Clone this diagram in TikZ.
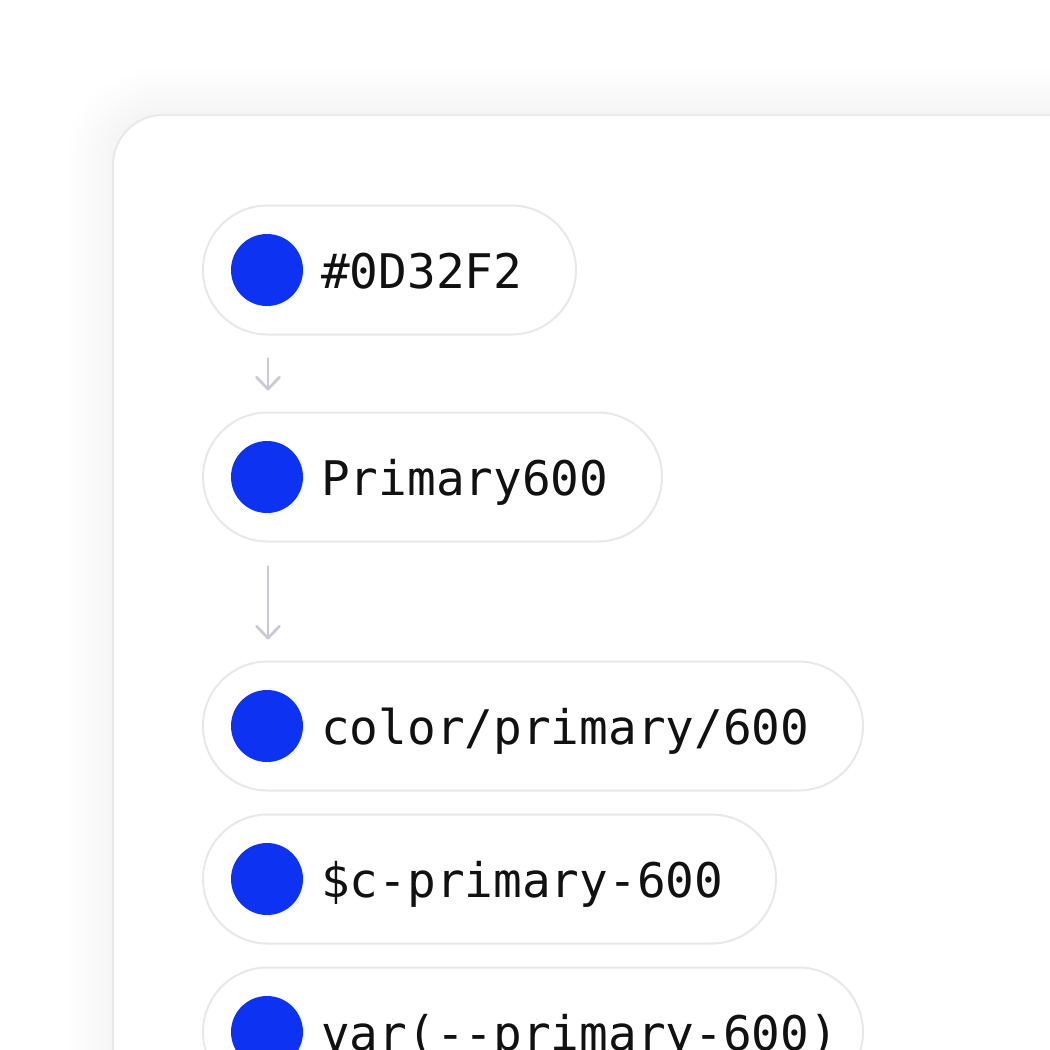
\documentclass[tikz,border=0pt]{standalone}
\usepackage{fontspec}
\setmonofont{DejaVu Sans Mono}
\usetikzlibrary{arrows.meta,calc}
\definecolor{pillline}{HTML}{E8E8EA}
\definecolor{cardline}{HTML}{E9E9EB}
\definecolor{dotblue}{HTML}{0D32F2}
\definecolor{arrowgray}{HTML}{C9C9D6}
\definecolor{shadowgray}{HTML}{DCDCE0}
\definecolor{txt}{HTML}{111111}
\tikzset{
  pill/.style={draw=pillline, line width=2pt, fill=white, rounded corners=64.5pt,
    minimum height=129pt, inner sep=0pt, anchor=west},
  dot/.style={circle, fill=dotblue, minimum size=72pt, inner sep=0pt},
  code/.style={anchor=base west, inner sep=0pt, text=txt,
    font=\ttfamily\fontsize{47.7}{50}\selectfont},
  flow/.style={draw=arrowgray, line width=2.7pt, line cap=round,
    -{Straight Barb[length=12pt,width=23pt,line width=2.7pt,round]}}
}
\begin{document}
\begin{tikzpicture}[x=1pt,y=-1pt]
\useasboundingbox (0,0) rectangle (1050,1050);
\fill[white] (0,0) rectangle (1050,1050);
% soft shadow (solid layers, outermost first)
\foreach \i in {26,25,...,1}{
  \pgfmathsetmacro{\p}{30*((27-\i)/26)^1.3}
  \fill[shadowgray!\p!white, rounded corners={50pt+2*\i pt}]
    ({113-2*\i},{115-2*\i}) rectangle (1200,1200);
}
% card
\draw[cardline, line width=2pt, fill=white, rounded corners=50pt]
  (113,115) rectangle (1150,1150);
% pills
\node[pill, minimum width=373pt] (p1) at (202,270) {};
\node[pill, minimum width=459pt] (p2) at (202,477) {};
\node[pill, minimum width=660pt] (p3) at (202,726) {};
\node[pill, minimum width=573pt] (p4) at (202,879) {};
\node[pill, minimum width=660pt] (p5) at (202,1032) {};
% dots
\node[dot] (c1) at (267,270) {};
\node[dot] (c2) at (267,477) {};
\node[dot] (c3) at (267,726) {};
\node[dot] (c4) at (267,879) {};
\node[dot] (c5) at (267,1032) {};
% labels
\node[code] (t1) at (321,288) {\#0D32F2};
\node[code] (t2) at (321,495) {Primary600};
\node[code] (t3) at (321,744) {color/primary/600};
\node[code] (t4) at (321,897) {\$c-primary-600};
\node[code] (t5) at (321,1050) {var(-{}-primary-600)};
% arrows
\draw[flow] ($(c1 |- p1.south)+(1,23)$) -- ($(c1 |- p2.north)+(1,-21)$);
\draw[flow] ($(c2 |- p2.south)+(1,24)$) -- ($(c2 |- p3.north)+(1,-21)$);
\end{tikzpicture}
\end{document}
